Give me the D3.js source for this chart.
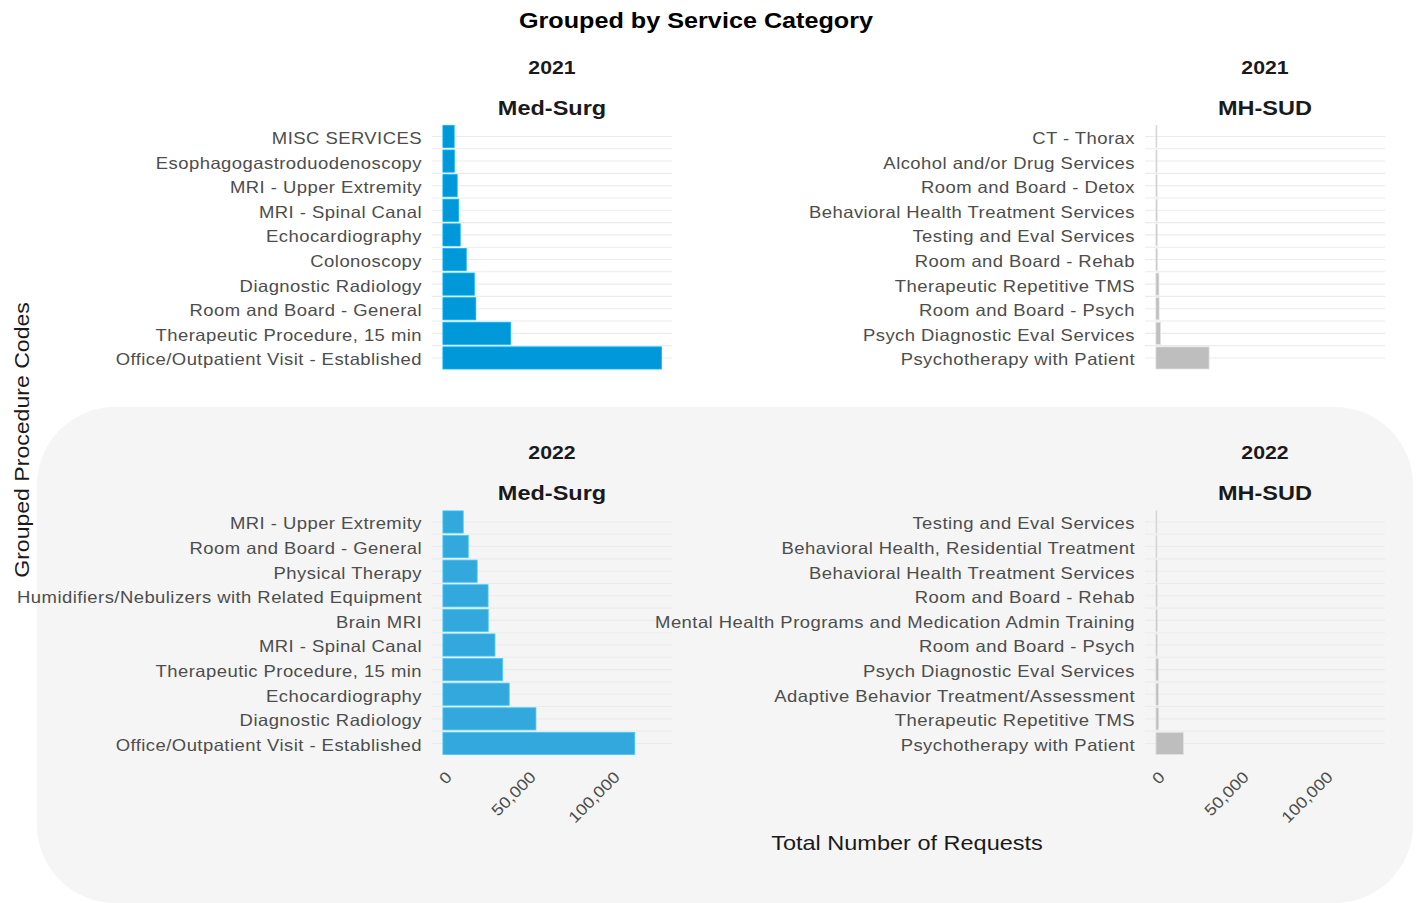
<!DOCTYPE html>
<html>
<head>
<meta charset="utf-8">
<script src="https://cdn.jsdelivr.net/npm/d3@7"></script>
<style>
  body { margin: 0; background: #fff; }
  text { font-family: "Liberation Sans", Arial, sans-serif; }
</style>
</head>
<body>
<svg id="chart" width="1416" height="903"></svg>
<script>
// ---- data (top to bottom, as shown in each facet) ----
const medSurg2021Codes = [
  'MISC SERVICES', 'Esophagogastroduodenoscopy', 'MRI - Upper Extremity', 'MRI - Spinal Canal',
  'Echocardiography', 'Colonoscopy', 'Diagnostic Radiology', 'Room and Board - General',
  'Therapeutic Procedure, 15 min', 'Office/Outpatient Visit - Established'
];
const medSurg2021Requests = [6700, 6800, 8500, 9300, 10300, 13900, 18700, 19600, 40300, 130200];

const mhSud2021Codes = [
  'CT - Thorax', 'Alcohol and/or Drug Services', 'Room and Board - Detox',
  'Behavioral Health Treatment Services', 'Testing and Eval Services', 'Room and Board - Rehab',
  'Therapeutic Repetitive TMS', 'Room and Board - Psych', 'Psych Diagnostic Eval Services',
  'Psychotherapy with Patient'
];
const mhSud2021Requests = [600, 650, 700, 750, 800, 850, 1800, 1900, 2800, 31700];

const medSurg2022Codes = [
  'MRI - Upper Extremity', 'Room and Board - General', 'Physical Therapy',
  'Humidifiers/Nebulizers with Related Equipment', 'Brain MRI', 'MRI - Spinal Canal',
  'Therapeutic Procedure, 15 min', 'Echocardiography', 'Diagnostic Radiology',
  'Office/Outpatient Visit - Established'
];
const medSurg2022Requests = [12100, 15100, 20400, 26900, 27000, 31000, 35500, 39500, 55400, 114300];

const mhSud2022Codes = [
  'Testing and Eval Services', 'Behavioral Health, Residential Treatment',
  'Behavioral Health Treatment Services', 'Room and Board - Rehab',
  'Mental Health Programs and Medication Admin Training', 'Room and Board - Psych',
  'Psych Diagnostic Eval Services', 'Adaptive Behavior Treatment/Assessment',
  'Therapeutic Repetitive TMS', 'Psychotherapy with Patient'
];
const mhSud2022Requests = [600, 650, 700, 750, 800, 850, 1500, 1600, 1700, 16500];

const years = ['2021', '2022'];
const groups = ['Med-Surg', 'MH-SUD'];
const xTicks = [0, 50000, 100000];
const xDomain = [-6500, 136500];

const panels = [
  { year: '2021', group: 'Med-Surg', codes: medSurg2021Codes, values: medSurg2021Requests, fill: '#0098d8' },
  { year: '2021', group: 'MH-SUD', codes: mhSud2021Codes, values: mhSud2021Requests, fill: '#bebebe' },
  { year: '2022', group: 'Med-Surg', codes: medSurg2022Codes, values: medSurg2022Requests, fill: '#33a8dd' },
  { year: '2022', group: 'MH-SUD', codes: mhSud2022Codes, values: mhSud2022Requests, fill: '#bebebe' }
];

// ---- layout ----
const SX = 1.12; // text in the reference is drawn a little wide
const colLeft = { 'Med-Surg': 432, 'MH-SUD': 1145 };
const panelW = 240;
const rowTop = { '2021': 121.7, '2022': 507.2 };
const panelH = 251;

const svg = d3.select('#chart');

// shaded rounded box behind the second row
svg.append('rect')
  .attr('x', 37).attr('y', 407)
  .attr('width', 1376).attr('height', 496)
  .attr('rx', 78).attr('ry', 78)
  .attr('fill', '#f5f5f5');

const addText = (sel, x, y, str, opts = {}) => {
  const rot = opts.rotate ? ` rotate(${opts.rotate})` : '';
  const sx = opts.sx || SX;
  return sel.append('text')
    .attr('transform', `translate(${x},${y})${rot} scale(${sx},1)`)
    .attr('text-anchor', opts.anchor || 'middle')
    .attr('font-size', opts.size || 16)
    .attr('font-weight', opts.bold ? 'bold' : 'normal')
    .attr('letter-spacing', opts.spacing || 0)
    .attr('fill', opts.color || '#4d4d4d')
    .attr('dy', opts.dy || 0)
    .text(str);
};

// title and axis titles
addText(svg, 696, 28, 'Grouped by Service Category', { size: 22.5, bold: true, color: '#000', sx: 1.12 });
addText(svg, 907, 850, 'Total Number of Requests', { size: 21, color: '#1a1a1a' });
addText(svg, 29, 440, 'Grouped Procedure Codes', { size: 20.6, color: '#1a1a1a', rotate: -90 });

panels.forEach(p => {
  const x0 = colLeft[p.group];
  const y0 = rowTop[p.year];

  const x = d3.scaleLinear().domain(xDomain).range([x0, x0 + panelW]);
  const y = d3.scaleBand()
    .domain(p.codes)
    .range([y0, y0 + panelH])
    .paddingInner(0.1)
    .paddingOuter(0.15);

  const g = svg.append('g').attr('class', 'panel');

  // grid: at each category and half way between neighbours
  const step = y.step();
  const gridYs = [];
  p.codes.forEach((c, i) => {
    gridYs.push(y(c) + y.bandwidth() / 2);
    if (i > 0) gridYs.push(y(c) + y.bandwidth() / 2 - step / 2);
  });
  g.selectAll('line.grid')
    .data(gridYs)
    .join('line')
    .attr('class', 'grid')
    .attr('x1', x0).attr('x2', x0 + panelW)
    .attr('y1', d => d).attr('y2', d => d)
    .attr('stroke', '#ebebeb')
    .attr('stroke-width', 1.1);

  // bars
  g.selectAll('rect.bar')
    .data(p.codes.map((c, i) => ({ code: c, value: p.values[i] })))
    .join('rect')
    .attr('class', 'bar')
    .attr('x', x(0))
    .attr('y', d => y(d.code))
    .attr('width', d => x(d.value) - x(0))
    .attr('height', y.bandwidth())
    .attr('fill', p.fill)
    .attr('stroke', d3.color(p.fill).brighter(0.5))
    .attr('stroke-width', 0.8);

  // category labels
  p.codes.forEach(c => {
    addText(g, x0 - 10, y(c) + y.bandwidth() / 2, c,
      { anchor: 'end', size: 16.5, dy: '0.45em', spacing: 0.4 });
  });

  // strip labels
  addText(g, x0 + panelW / 2, y0 - 48, p.year, { size: 19, bold: true, color: '#1a1a1a' });
  addText(g, x0 + panelW / 2, y0 - 7, p.group, { size: 21, bold: true, color: '#1a1a1a' });

  // x tick labels only on bottom row
  if (p.year === years[years.length - 1]) {
    xTicks.forEach(t => {
      addText(g, x(t) + 10, y0 + panelH + 20, d3.format(',')(t),
        { anchor: 'end', size: 16, rotate: -45 });
    });
  }
});
</script>
</body>
</html>
